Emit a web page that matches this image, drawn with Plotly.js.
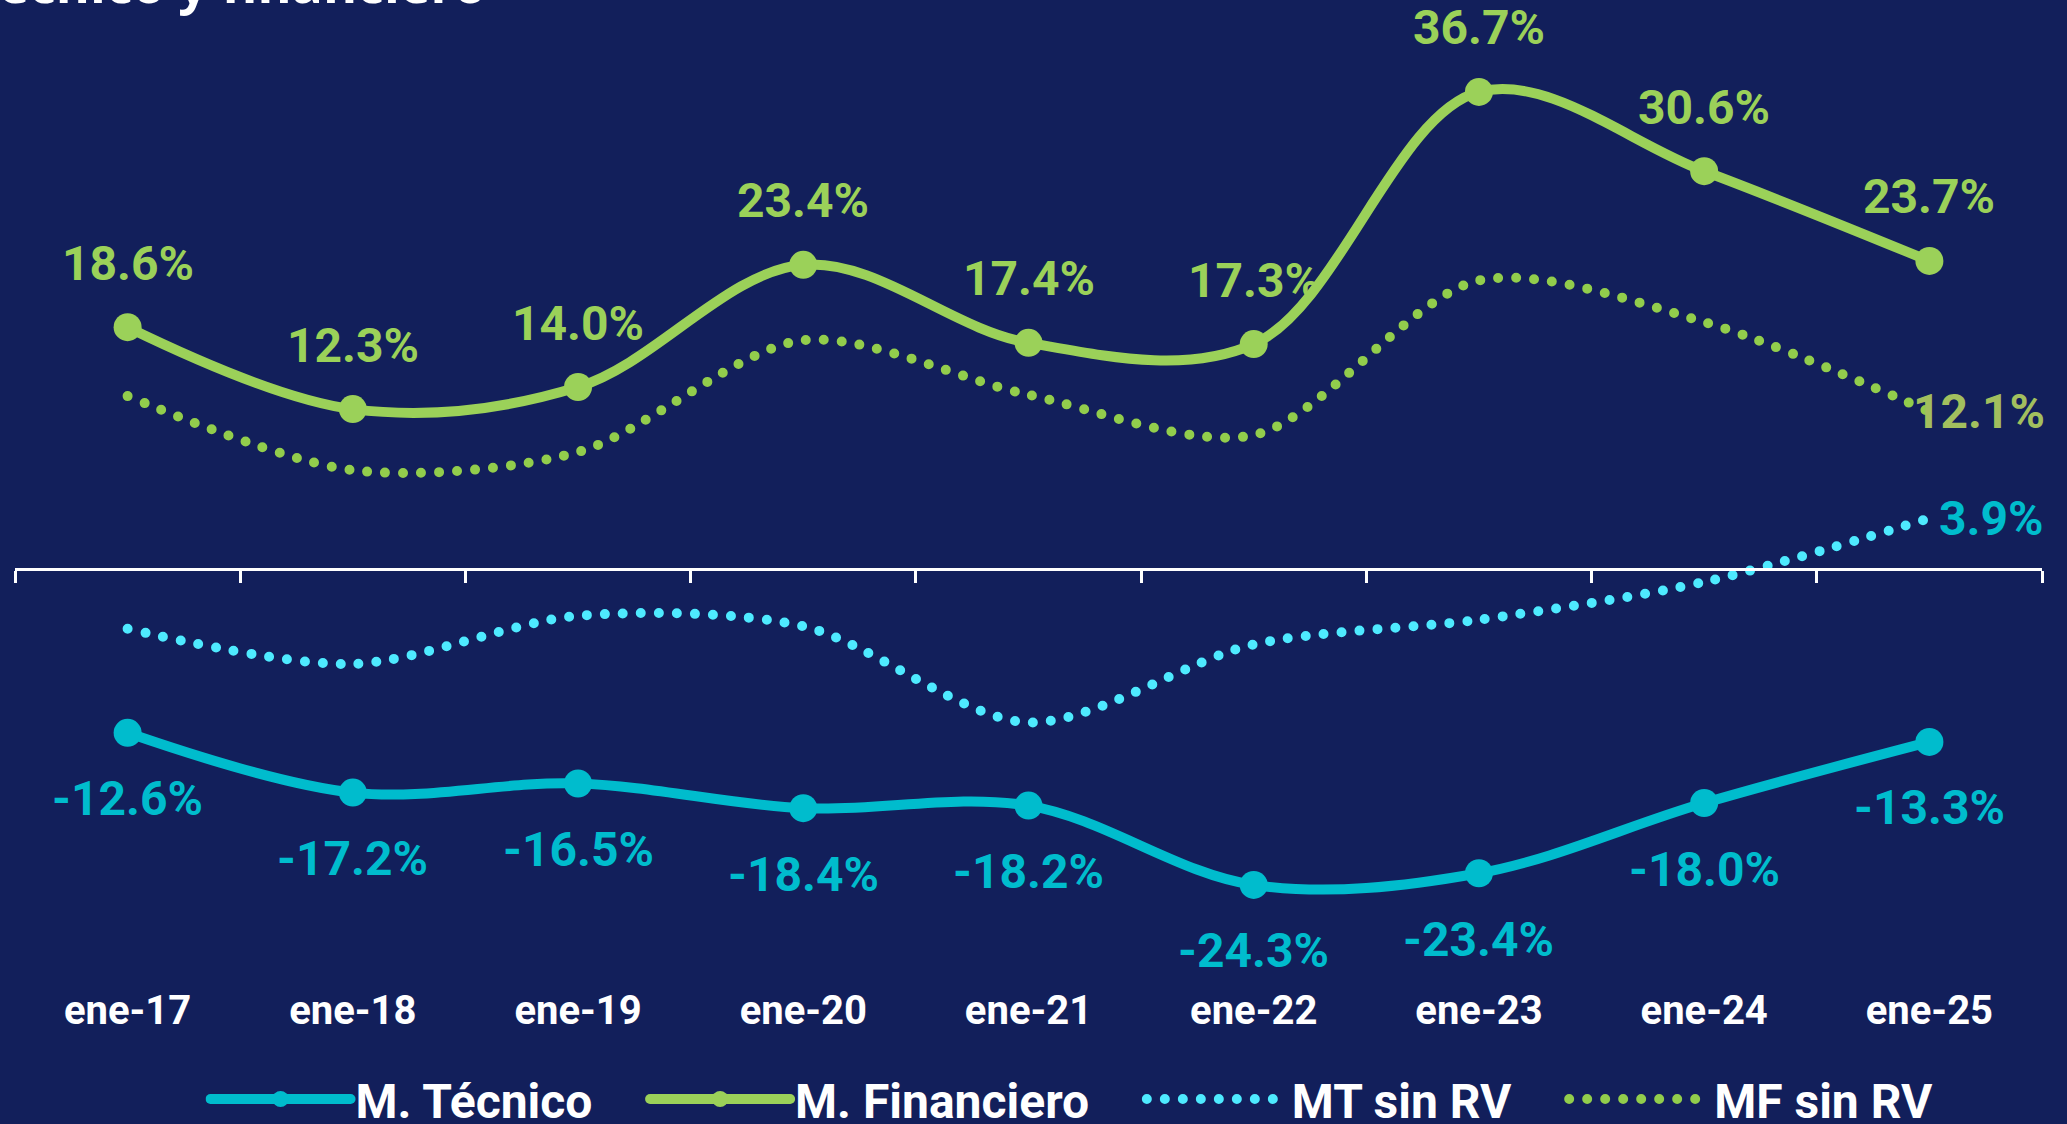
<!DOCTYPE html>
<html>
<head>
<meta charset="utf-8">
<script src="https://cdn.plot.ly/plotly-3.0.1.min.js"></script>
<style>
  html, body { margin: 0; padding: 0; background: #121f5b; }
  #chart { width: 2067px; height: 1124px; }
  .js-line { stroke-linecap: round; }
</style>
</head>
<body>
<div id="chart"></div>
<script>
// ---- data ----
var categories = ['ene-17','ene-18','ene-19','ene-20','ene-21','ene-22','ene-23','ene-24','ene-25'];
var mTecnico    = [-12.6, -17.2, -16.5, -18.4, -18.2, -24.3, -23.4, -18.0, -13.3];
var mFinanciero = [18.6, 12.3, 14.0, 23.4, 17.4, 17.3, 36.7, 30.6, 23.7];
var mtSinRV     = [-4.6, -7.3, -3.6, -4.4, -11.8, -5.8, -3.9, -1.0, 3.9];
var mfSinRV     = [13.3, 7.6, 9.0, 17.6, 13.4, 10.3, 22.2, 19.0, 12.1];
var seriesNames = ['M. Técnico', 'M. Financiero', 'MT sin RV', 'MF sin RV'];
var titleText   = 'Margen técnico y financiero';

// ---- style ----
var BG = '#121f5b';
var GREEN = '#9bd159';
var TEAL = '#00bccd';
var CYAN = '#4eeaff';
var GREEN_DOT = '#92cd4c';
var LABEL_OLIVE = '#a2bf5e';
var FONT = 'Roboto, "Noto Sans", sans-serif';
var PAD = '\u00a0\u00a0\u00a0\u00a0';  // spacing between legend entries

function fmt(v) { return v.toFixed(1) + '%'; }

var traces = [
  {
    x: categories, y: mTecnico, name: seriesNames[0] + PAD, type: 'scatter', mode: 'lines+markers',
    line: { color: TEAL, width: 10, shape: 'spline', smoothing: 1 },
    marker: { color: TEAL, size: 28 }
  },
  {
    x: categories, y: mFinanciero, name: seriesNames[1] + PAD, type: 'scatter', mode: 'lines+markers',
    line: { color: GREEN, width: 10, shape: 'spline', smoothing: 1 },
    marker: { color: GREEN, size: 28 }
  },
  {
    x: categories, y: mtSinRV, name: seriesNames[2] + PAD, type: 'scatter', mode: 'lines',
    line: { color: CYAN, width: 10, shape: 'spline', smoothing: 0.85, dash: '0px,18px' }
  },
  {
    x: categories, y: mfSinRV, name: seriesNames[3], type: 'scatter', mode: 'lines',
    line: { color: GREEN_DOT, width: 10, shape: 'spline', smoothing: 0.85, dash: '0px,18px' }
  }
];

var annotations = [];
var labelFont = function (c) { return { family: FONT, size: 48, color: c, weight: 700 }; };
categories.forEach(function (c, i) {
  annotations.push({ x: c, y: mFinanciero[i], xref: 'x', yref: 'y', text: fmt(mFinanciero[i]),
    showarrow: false, yanchor: 'middle', xanchor: 'center', yshift: 64, font: labelFont(GREEN) });
  annotations.push({ x: c, y: mTecnico[i], xref: 'x', yref: 'y', text: fmt(mTecnico[i]),
    showarrow: false, yanchor: 'middle', xanchor: 'center', yshift: -66, font: labelFont(TEAL) });
});
var last = categories.length - 1;
annotations.push({ x: categories[last], y: mfSinRV[last], xref: 'x', yref: 'y', text: fmt(mfSinRV[last]),
  showarrow: false, yanchor: 'middle', xanchor: 'left', xshift: -18, yshift: 0, font: labelFont(LABEL_OLIVE) });
annotations.push({ x: categories[last], y: mtSinRV[last], xref: 'x', yref: 'y', text: fmt(mtSinRV[last]),
  showarrow: false, yanchor: 'middle', xanchor: 'left', xshift: 8, yshift: 0, font: labelFont(TEAL) });
// partially visible title at the very top
annotations.push({ x: 0.2333, y: 1.016, xref: 'paper', yref: 'paper', text: titleText,
  showarrow: false, xanchor: 'right', yanchor: 'middle',
  font: { family: '"Open Sans", sans-serif', size: 52, color: '#ffffff', weight: 700 } });

var layout = {
  width: 2067, height: 1124,
  paper_bgcolor: BG, plot_bgcolor: BG,
  margin: { l: 15, r: 25, t: 0, b: 0, autoexpand: false },
  showlegend: true,
  hovermode: false,
  xaxis: {
    type: 'category', categoryorder: 'array', categoryarray: categories,
    range: [-0.5, 8.5],
    anchor: 'free', position: 0.4938,
    showline: true, linecolor: '#ffffff', linewidth: 3,
    ticks: 'outside', tickson: 'boundaries', ticklen: 12, tickwidth: 3, tickcolor: '#ffffff',
    showgrid: false, zeroline: false,
    tickfont: { family: FONT, size: 40, color: '#ffffff', weight: 700 },
    ticklabelstandoff: 405
  },
  yaxis: {
    range: [-42.69, 43.77], visible: false, showgrid: false, zeroline: false
  },
  legend: {
    orientation: 'h', x: 0.094, xanchor: 'left', y: 0.022, yanchor: 'middle',
    bgcolor: 'rgba(0,0,0,0)', borderwidth: 0,
    itemwidth: 140,
    font: { family: FONT, size: 48, color: '#ffffff', weight: 700 }
  },
  annotations: annotations
};

Plotly.newPlot('chart', traces, layout, { displayModeBar: false, staticPlot: true });
</script>
</body>
</html>
